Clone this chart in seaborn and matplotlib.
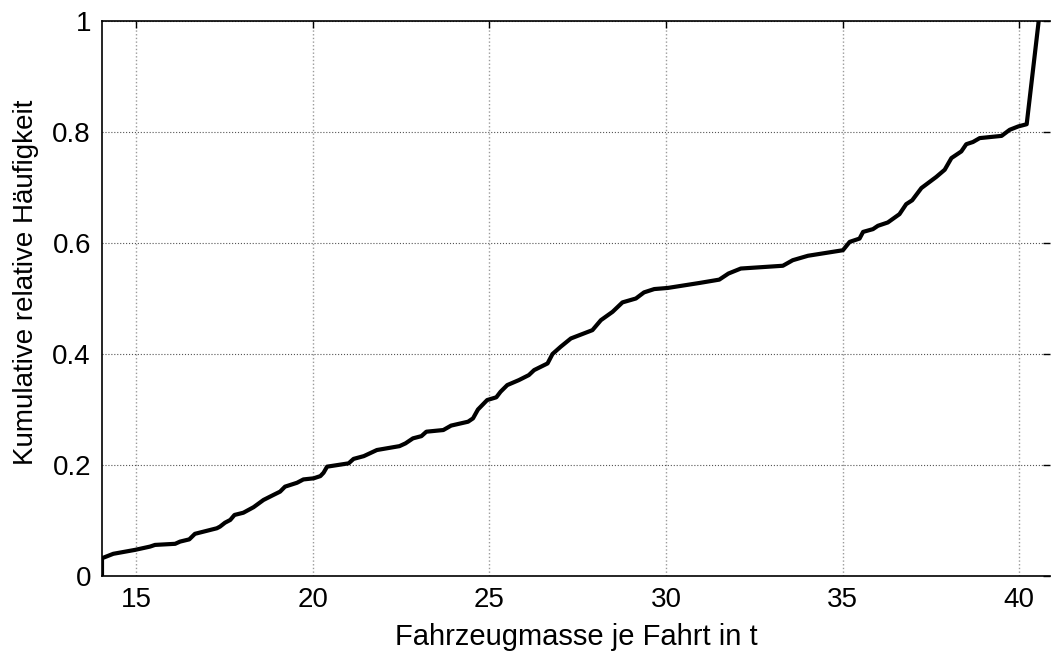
import matplotlib
matplotlib.use("Agg")
import matplotlib.pyplot as plt
import seaborn as sns
import pandas as pd

# Empirical cumulative distribution of vehicle mass per trip
mass_t = [14.04, 14.04, 14.36, 14.97, 15.40, 15.54, 16.11, 16.25, 16.51, 16.67,
          17.29, 17.38, 17.52, 17.67, 17.79, 18.04, 18.33, 18.61, 18.89, 19.08,
          19.22, 19.56, 19.74, 20.03, 20.22, 20.31, 20.41, 21.02, 21.16, 21.45,
          21.82, 22.46, 22.63, 22.84, 23.08, 23.22, 23.70, 23.92, 24.40, 24.54,
          24.68, 24.94, 25.20, 25.32, 25.51, 25.84, 26.12, 26.27, 26.65, 26.79,
          27.02, 27.31, 27.92, 28.16, 28.49, 28.77, 29.15, 29.38, 29.67, 30.05,
          30.95, 31.51, 31.77, 32.12, 33.31, 33.59, 34.02, 35.01, 35.20, 35.48,
          35.58, 35.86, 36.00, 36.28, 36.61, 36.80, 36.97, 37.23, 37.65, 37.89,
          38.08, 38.36, 38.50, 38.69, 38.88, 39.50, 39.73, 39.97, 40.21, 40.55]
cum_freq = [0.000, 0.032, 0.040, 0.047, 0.053, 0.056, 0.058, 0.062, 0.066, 0.076,
            0.086, 0.089, 0.096, 0.101, 0.110, 0.114, 0.124, 0.137, 0.146, 0.152,
            0.161, 0.168, 0.174, 0.176, 0.180, 0.186, 0.197, 0.203, 0.211, 0.216,
            0.227, 0.234, 0.239, 0.248, 0.252, 0.260, 0.263, 0.271, 0.278, 0.284,
            0.300, 0.317, 0.322, 0.332, 0.344, 0.353, 0.362, 0.371, 0.383, 0.400,
            0.413, 0.428, 0.443, 0.461, 0.476, 0.493, 0.500, 0.511, 0.517, 0.519,
            0.528, 0.534, 0.545, 0.554, 0.559, 0.569, 0.577, 0.587, 0.602, 0.608,
            0.620, 0.625, 0.631, 0.637, 0.652, 0.670, 0.677, 0.699, 0.719, 0.732,
            0.753, 0.765, 0.778, 0.782, 0.789, 0.793, 0.804, 0.810, 0.814, 1.000]

x_ticks = [15, 20, 25, 30, 35, 40]
x_tick_labels = ["15", "20", "25", "30", "35", "40"]
y_ticks = [0, 0.2, 0.4, 0.6, 0.8, 1.0]
y_tick_labels = ["0", "0.2", "0.4", "0.6", "0.8", "1"]

df = pd.DataFrame({"mass": mass_t, "cdf": cum_freq})

sns.set_style("white")
plt.rcParams["font.family"] = ["Liberation Sans", "DejaVu Sans"]
plt.rcParams["text.color"] = "black"
plt.rcParams["axes.labelcolor"] = "black"
plt.rcParams["xtick.color"] = "black"
plt.rcParams["ytick.color"] = "black"

fig = plt.figure(figsize=(10.53, 6.53), dpi=100)
ax = fig.add_axes([102 / 1053, 77 / 653, (1050 - 102) / 1053, (576 - 21) / 653])

sns.lineplot(data=df, x="mass", y="cdf", ax=ax, color="black", linewidth=3.0,
             sort=False, estimator=None, zorder=3)

ax.set_xlim(14.04, 40.87)
ax.set_ylim(0, 1)
ax.set_xticks(x_ticks)
ax.set_xticklabels(x_tick_labels)
ax.set_yticks(y_ticks)
ax.set_yticklabels(y_tick_labels)

# MATLAB-like dotted grid
ax.xaxis.grid(True, linestyle=":", color="#9a9a9a", linewidth=1.0)
ax.yaxis.grid(True, linestyle=":", color="#555555", linewidth=0.8)

for side in ["left", "bottom", "top"]:
    ax.spines[side].set_visible(True)
    ax.spines[side].set_color("black")
    ax.spines[side].set_linewidth(1.2)
ax.spines["right"].set_visible(False)

ax.tick_params(axis="both", which="major", direction="in", length=5, width=1,
               color="black", labelcolor="black", top=True, right=True,
               labelsize=20, pad=8)

ax.set_xlabel("Fahrzeugmasse je Fahrt in t", fontsize=21, labelpad=7)
ax.set_ylabel("Kumulative relative Häufigkeit", fontsize=20)
ax.yaxis.set_label_coords(-0.066, 0.53)

fig.savefig("out.png", dpi=100)
